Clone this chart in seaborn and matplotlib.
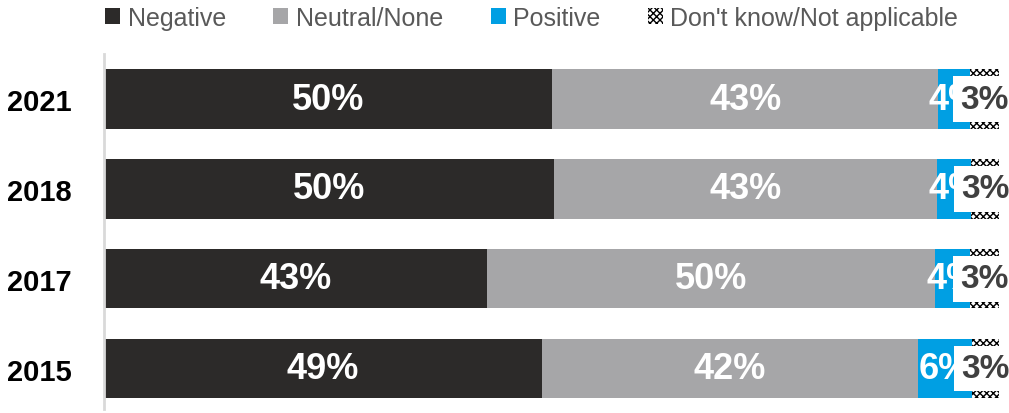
import matplotlib
matplotlib.use("Agg")
import matplotlib.pyplot as plt
from matplotlib.patches import Patch
import numpy as np
import pandas as pd
import seaborn as sns

# Survey shares per year (percent)
years = ["2021", "2018", "2017", "2015"]
negative = [50.1, 50.3, 42.8, 48.9]
neutral = [43.1, 42.8, 50.1, 42.1]
positive = [3.6, 3.8, 3.9, 6.0]
dont_know = [3.2, 3.1, 3.2, 3.0]

series_names = ["Negative", "Neutral/None", "Positive", "Don't know/Not applicable"]
colors = ["#2c2a29", "#a6a6a8", "#009fe3", "#ffffff"]

sns.set_style("white")
plt.rcParams["font.family"] = ["Liberation Sans", "DejaVu Sans"]
plt.rcParams["hatch.linewidth"] = 1.0

df = pd.DataFrame({
    "year": years,
    "Negative": negative,
    "Neutral/None": neutral,
    "Positive": positive,
    "Don't know/Not applicable": dont_know,
})
cum = df[series_names].cumsum(axis=1)

fig = plt.figure(figsize=(10.09, 4.14), dpi=100)
ax = fig.add_axes([0.103, 0.0097, 0.887, 0.857])

# stacked bars: draw cumulative totals from the outermost layer inward
for name, col in zip(series_names[::-1], colors[::-1]):
    sns.barplot(data=cum.assign(year=years), x=name, y="year", order=years,
                color=col, orient="h", width=0.66, ax=ax, saturation=1,
                linewidth=0)

# the first drawn layer is "Don't know" -> checkered hatch
for p in ax.patches[:len(years)]:
    p.set_hatch("xxxxx")
    p.set_edgecolor("#000000")
    p.set_facecolor("#ffffff")
    p.set_linewidth(0)

ax.set_xlim(0, 100)
ax.set_ylim(3.45, -0.5)
ax.set_xlabel("")
ax.set_ylabel("")
ax.set_xticks([])
for s in ["top", "right", "bottom"]:
    ax.spines[s].set_visible(False)
ax.spines["left"].set_color("#d9d9d9")
ax.spines["left"].set_linewidth(2)
ax.tick_params(axis="y", length=0, pad=23)
for lab in ax.get_yticklabels():
    lab.set_fontsize(21)
    lab.set_fontweight("bold")
    lab.set_color("#000000")

# value labels
for i in range(len(years)):
    starts = [0] + list(cum.iloc[i, :-1])
    vals = df.loc[i, series_names].tolist()
    for j, (s, v) in enumerate(zip(starts, vals)):
        cx = s + v / 2
        txt = f"{v:.0f}%"
        if j < 3:
            ax.text(cx, i, txt, ha="center", va="center", color="white",
                    fontsize=26, fontweight="bold", zorder=4)
        else:
            ax.text(cx, i, txt, ha="center", va="center", color="#404040",
                    fontsize=24, fontweight="bold", zorder=5, clip_on=False,
                    bbox=dict(boxstyle="square,pad=0.22", facecolor="white",
                              edgecolor="none"))

handles = [Patch(facecolor=c, edgecolor="none") for c in colors[:3]]
handles.append(Patch(facecolor="white", edgecolor="black", hatch="xxxxx",
                     linewidth=0))
leg = fig.legend(handles, series_names, loc="center", ncol=4,
                 bbox_to_anchor=(0.527, 0.954), frameon=False, fontsize=18,
                 handlelength=0.6, handleheight=0.6, handletextpad=0.3,
                 columnspacing=1.9, labelcolor="#595959")

fig.savefig("out.png", dpi=100)
